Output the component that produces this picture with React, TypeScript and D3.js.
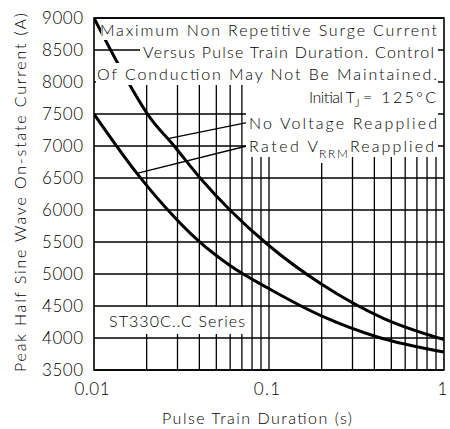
import * as React from "react";
import * as d3 from "d3";

// current axis (A) and pulse-train duration axis (s)
const currentTicks = [3500, 4000, 4500, 5000, 5500, 6000, 6500, 7000, 7500, 8000, 8500, 9000];
const durationLabels = [0.01, 0.1, 1];
const durationGrid = [
  0.02, 0.03, 0.04, 0.05, 0.06, 0.07, 0.08, 0.09, 0.1,
  0.2, 0.3, 0.4, 0.5, 0.6, 0.7, 0.8, 0.9
];

// No Voltage Reapplied
const noVoltageT = [0.01, 0.0163, 0.0205, 0.0287, 0.0404, 0.0598, 0.099, 0.2, 0.45, 1.0];
const noVoltageI = [9000, 7917, 7475, 7000, 6500, 6000, 5453, 4839, 4308, 3975];

// Rated VRRM Reapplied
const ratedT = [0.01, 0.0176, 0.0255, 0.04, 0.0598, 0.099, 0.204, 0.412, 1.0];
const ratedI = [7500, 6573, 6047, 5505, 5133, 4777, 4333, 4020, 3780];

// leader lines: [t, I] from curve to label
const leaderNoVoltage = [[0.0269, 7120], [0.0746, 7364]];
const leaderRated = [[0.0176, 6573], [0.0746, 7000]];

const FONT = "Lato, 'Liberation Sans', Arial, sans-serif";

const App: React.FunctionComponent = () => {
  const chartContainer = React.useRef<HTMLDivElement>(null);

  React.useEffect(() => {
    const width = 450;
    const height = 429;
    const left = 94, right = 444, top = 18, bottom = 370;

    const x = d3.scaleLog().domain([0.01, 1]).range([left, right]);
    const y = d3.scaleLinear().domain([3500, 9000]).range([bottom, top]);

    d3.select(chartContainer.current).selectAll("svg").remove();
    const svg = d3
      .select(chartContainer.current)
      .append("svg")
      .attr("width", width)
      .attr("height", height)
      .style("position", "absolute")
      .style("left", 0)
      .style("top", 0)
      .style("background", "#fff");

    svg
      .append("defs")
      .append("clipPath")
      .attr("id", "plot-clip")
      .append("rect")
      .attr("x", left)
      .attr("y", top)
      .attr("width", right - left)
      .attr("height", bottom - top);

    // grid
    const grid = svg.append("g").attr("stroke", "#000").attr("stroke-width", 1.3);
    grid
      .selectAll("line.h")
      .data(currentTicks)
      .enter()
      .append("line")
      .attr("x1", left)
      .attr("x2", right)
      .attr("y1", d => y(d))
      .attr("y2", d => y(d));
    grid
      .selectAll("line.v")
      .data(durationGrid)
      .enter()
      .append("line")
      .attr("x1", d => x(d))
      .attr("x2", d => x(d))
      .attr("y1", top)
      .attr("y2", bottom);

    // curves
    const line = d3
      .line<number[]>()
      .x(d => x(d[0]))
      .y(d => y(d[1]))
      .curve(d3.curveMonotoneX);
    const curves = svg.append("g").attr("clip-path", "url(#plot-clip)");
    [
      [noVoltageT, noVoltageI],
      [ratedT, ratedI]
    ].forEach(([ts, is]) => {
      curves
        .append("path")
        .attr("d", line(ts.map((t, i) => [t, is[i]])))
        .attr("fill", "none")
        .attr("stroke", "#000")
        .attr("stroke-width", 3);
    });

    // leaders
    [leaderNoVoltage, leaderRated].forEach(l => {
      svg
        .append("line")
        .attr("x1", x(l[0][0]))
        .attr("y1", y(l[0][1]))
        .attr("x2", x(l[1][0]))
        .attr("y2", y(l[1][1]))
        .attr("stroke", "#000")
        .attr("stroke-width", 1.3);
    });

    // white label backgrounds
    const masks = [
      [101, 19, 337, 21],
      [140, 40, 298, 23],
      [96, 63, 342, 22],
      [246, 85, 192, 72],
      [318, 157, 32, 6],
      [95, 307, 154, 27]
    ];
    svg
      .append("g")
      .selectAll("rect")
      .data(masks)
      .enter()
      .append("rect")
      .attr("x", d => d[0])
      .attr("y", d => d[1])
      .attr("width", d => d[2])
      .attr("height", d => d[3])
      .attr("fill", "#fff");

    // frame
    svg
      .append("rect")
      .attr("x", left)
      .attr("y", top)
      .attr("width", right - left)
      .attr("height", bottom - top)
      .attr("fill", "none")
      .attr("stroke", "#000")
      .attr("stroke-width", 1.6);

    const txt = (s: string, tx: number, ty: number, len: number, size = 16) =>
      svg
        .append("text")
        .attr("x", tx)
        .attr("y", ty)
        .attr("textLength", len)
        .attr("lengthAdjust", "spacing")
        .attr("font-family", FONT)
        .attr("font-weight", 300)
        .attr("font-size", size)
        .attr("fill", "#000")
        .text(s);

    // annotations
    txt("Maximum Non Repetitive Surge Current", 100, 36, 337);
    txt("Versus Pulse Train Duration. Control", 143, 58, 291);
    txt("Of Conduction May Not Be Maintained.", 97, 80, 340);
    txt("Initial T", 309, 103, 46);
    txt("J", 355, 107, 5, 11);
    txt("= 125°C", 363, 103, 73);
    txt("No Voltage Reapplied", 249, 129, 188);
    txt("Rated V", 249, 152, 69);
    txt("RRM", 319, 158, 29, 12);
    txt("Reapplied", 350, 152, 84);
    txt("ST330C..C Series", 109, 327, 136);

    // y tick labels
    currentTicks.forEach(v => {
      txt(String(v), 42, y(v) + 6, 41, 17);
    });

    // x tick labels
    durationLabels.forEach(v => {
      const s = String(v);
      const len = s.length * 8.8;
      txt(s, x(v) - 2 - len / 2, 395, len, 17);
    });

    // axis titles
    txt("Pulse Train Duration (s)", 162, 424, 190, 16);
    svg
      .append("text")
      .attr("transform", "translate(26,372) rotate(-90)")
      .attr("textLength", 359)
      .attr("lengthAdjust", "spacing")
      .attr("font-family", FONT)
      .attr("font-weight", 300)
      .attr("font-size", 16)
      .text("Peak Half Sine Wave On-state Current (A)");
  }, []);

  return <div ref={chartContainer} />;
};

export default App;
